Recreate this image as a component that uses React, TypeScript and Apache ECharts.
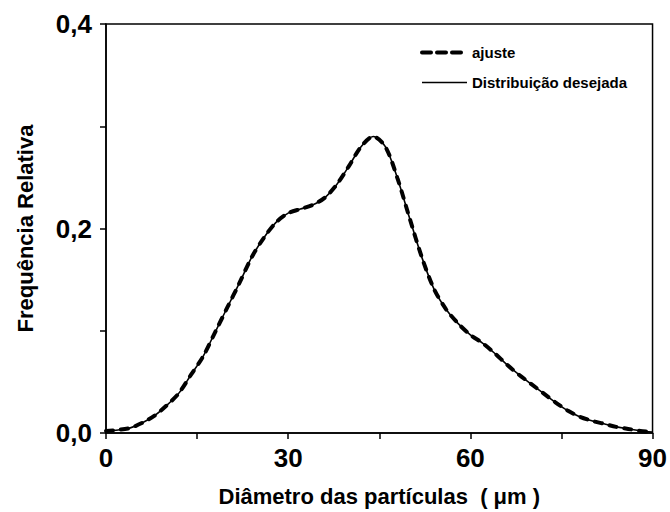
import React, { useEffect, useRef } from "react";
import * as echarts from "echarts";

const diameters = [0, 2, 4, 6, 8, 10, 12, 14, 16, 18, 20, 22, 24, 26, 28, 30, 32, 34, 36, 38, 40, 42, 44, 46, 48, 50, 52, 54, 56, 58, 60, 62, 64, 66, 68, 70, 72, 74, 76, 78, 80, 82, 84, 86, 88, 90];

const ajuste = [0.002, 0.003, 0.005, 0.010, 0.017, 0.027, 0.039, 0.057, 0.075, 0.099, 0.123, 0.147, 0.172, 0.191, 0.206, 0.215, 0.219, 0.223, 0.230, 0.243, 0.261, 0.280, 0.290, 0.280, 0.249, 0.210, 0.172, 0.141, 0.121, 0.107, 0.096, 0.088, 0.078, 0.067, 0.057, 0.048, 0.039, 0.030, 0.022, 0.016, 0.012, 0.009, 0.006, 0.004, 0.002, 0.001];

const desejada = [0.002, 0.003, 0.005, 0.010, 0.017, 0.027, 0.039, 0.057, 0.075, 0.099, 0.123, 0.147, 0.172, 0.191, 0.206, 0.215, 0.219, 0.223, 0.230, 0.243, 0.261, 0.280, 0.290, 0.280, 0.249, 0.210, 0.172, 0.141, 0.121, 0.107, 0.096, 0.088, 0.078, 0.067, 0.057, 0.048, 0.039, 0.030, 0.022, 0.016, 0.012, 0.009, 0.006, 0.004, 0.002, 0.001];

const xLabeled = [0, 30, 60, 90];
const yLabeled = ["0,0", "0,2", "0,4"];

const FONT = "'Liberation Sans', Arial, sans-serif";

export default function App() {
  const ref = useRef<HTMLDivElement>(null);
  useEffect(() => {
    if (!ref.current) return;
    const chart = echarts.init(ref.current, undefined, { renderer: "svg" });
    const axisCommon = {
      axisLine: { show: true, lineStyle: { color: "#000", width: 1.5 } },
      axisTick: { show: true, inside: false, length: 6, lineStyle: { color: "#000", width: 1.5 } },
      splitLine: { show: false },
    };
    chart.setOption({
      animation: false,
      backgroundColor: "#fff",
      color: ["#000", "#000"],
      grid: { left: 106, right: 17, top: 24, bottom: 79, show: true, borderColor: "#000", borderWidth: 1.5 },
      legend: {
        orient: "vertical",
        left: 420,
        top: 45,
        padding: 0,
        itemWidth: 45,
        itemHeight: 14,
        itemGap: 15,
        itemStyle: { opacity: 0 },
        data: [
          { name: "ajuste", lineStyle: { width: 4, type: [9, 6], color: "#000" } },
          { name: "Distribuição desejada", lineStyle: { width: 1.6, type: "solid", color: "#000" } },
        ],
        textStyle: { fontFamily: FONT, fontWeight: "bold", fontSize: 15, color: "#000" },
      },
      xAxis: {
        type: "value",
        min: 0,
        max: 90,
        interval: 15,
        ...axisCommon,
        axisLabel: {
          margin: 12,
          fontFamily: FONT,
          fontWeight: "bold",
          fontSize: 26,
          color: "#000",
          formatter: (v: number) => (xLabeled.includes(Math.round(v)) ? String(Math.round(v)) : ""),
        },
        name: "Diâmetro das partículas  ( μm )",
        nameLocation: "middle",
        nameGap: 52,
        nameTextStyle: { fontFamily: FONT, fontWeight: "bold", fontSize: 22, color: "#000" },
      },
      yAxis: {
        type: "value",
        min: 0,
        max: 0.4,
        interval: 0.1,
        ...axisCommon,
        axisLabel: {
          margin: 14,
          fontFamily: FONT,
          fontWeight: "bold",
          fontSize: 26,
          color: "#000",
          formatter: (v: number) => {
            const k = Math.round(v * 10);
            return k % 2 === 0 ? yLabeled[k / 2] : "";
          },
        },
        name: "Frequência Relativa",
        nameLocation: "middle",
        nameGap: 70,
        nameTextStyle: { fontFamily: FONT, fontWeight: "bold", fontSize: 22, color: "#000" },
      },
      series: [
        {
          name: "Distribuição desejada",
          type: "line",
          data: diameters.map((d, i) => [d, desejada[i]]),
          smooth: 0.3,
          symbol: "none",
          itemStyle: { color: "#000" },
          lineStyle: { color: "#000", width: 1.6 },
          z: 2,
        },
        {
          name: "ajuste",
          type: "line",
          data: diameters.map((d, i) => [d, ajuste[i]]),
          smooth: 0.3,
          symbol: "none",
          itemStyle: { color: "#000" },
          lineStyle: { color: "#000", width: 4, type: [7, 8], cap: "round" },
          z: 3,
        },
      ],
    });
    return () => chart.dispose();
  }, []);
  return <div ref={ref} style={{ position: "fixed", left: 0, top: 0, width: 670, height: 512 }} />;
}
